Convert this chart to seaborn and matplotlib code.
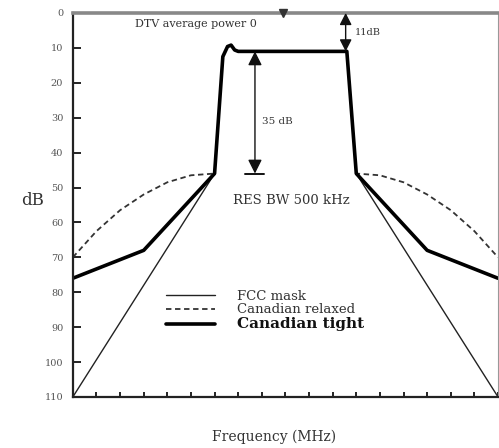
import numpy as np
import pandas as pd
import matplotlib
matplotlib.use("Agg")
import matplotlib.pyplot as plt
import seaborn as sns

# Frequency offset from the channel centre (MHz) and attenuation (dB)
passband_f = [-3.0, -2.65, -2.45, -2.3, -2.15, -2.0, 2.6, 3.0]
passband_db = [46, 12.5, 9.6, 9.2, 10.6, 11, 11, 46]

fcc_f = [-9.0] + passband_f + [9.0]
fcc_db = [110] + passband_db + [110]

relaxed_f = [-9.0, -8.0, -7.0, -6.0, -5.0, -4.0] + passband_f + [4.0, 5.0, 6.0, 7.0, 8.0, 9.0]
relaxed_db = [70, 62.5, 56.5, 52, 48.5, 46.5] + passband_db + [46.5, 48.5, 52, 56.5, 62.5, 70]

tight_f = [-9.0, -6.0] + passband_f + [6.0, 9.0]
tight_db = [76, 68] + passband_db + [68, 76]

series_names = ["FCC mask", "Canadian relaxed", "Canadian tight"]

df = pd.concat([
    pd.DataFrame({"freq": fcc_f, "db": fcc_db, "mask": series_names[0]}),
    pd.DataFrame({"freq": relaxed_f, "db": relaxed_db, "mask": series_names[1]}),
    pd.DataFrame({"freq": tight_f, "db": tight_db, "mask": series_names[2]}),
], ignore_index=True)

y_ticks = [0, 10, 20, 30, 40, 50, 60, 70, 80, 90, 100, 110]
x_ticks = np.arange(-9, 10, 1)

sns.set_style("ticks")
plt.rcParams["font.family"] = ["DejaVu Serif"]

fig = plt.figure(figsize=(4.99, 4.48), dpi=100)
ax = fig.add_axes([0.146, 0.114, 0.852, 0.857])

sns.lineplot(
    data=df, x="freq", y="db", hue="mask", style="mask", size="mask",
    hue_order=series_names, style_order=series_names, size_order=series_names,
    palette={"FCC mask": "#222222", "Canadian relaxed": "#333333", "Canadian tight": "#000000"},
    dashes={"FCC mask": "", "Canadian relaxed": (3, 2), "Canadian tight": ""},
    sizes={"FCC mask": 1.0, "Canadian relaxed": 1.3, "Canadian tight": 2.6},
    estimator=None, sort=False, ax=ax,
)

ax.set_xlim(-9, 9)
ax.set_ylim(110, 0)
ax.set_xticks(x_ticks)
ax.set_xticklabels([])
ax.set_yticks(y_ticks)
ax.set_yticklabels([str(v) for v in y_ticks], color="#555555", fontsize=7)
ax.tick_params(axis="y", direction="in", length=6, width=1.4, pad=7, colors="#222222", labelcolor="#555555")
ax.tick_params(axis="x", direction="in", length=3.5, width=1.4, colors="#222222")

for side in ["left", "bottom"]:
    ax.spines[side].set_linewidth(1.6)
    ax.spines[side].set_color("#222222")
ax.spines["top"].set_linewidth(2.6)
ax.spines["top"].set_color("#888888")
ax.spines["right"].set_linewidth(0.8)
ax.spines["right"].set_color("#999999")

ax.set_xlabel("")
ax.set_ylabel("")
fig.text(0.066, 0.553, "dB", fontsize=12, color="#333333", ha="center", va="center")
fig.text(0.55, 0.025, "Frequency (MHz)", fontsize=10, color="#333333", ha="center", va="center")

txt = "#333333"
# Average power reference at 0 dB
ax.plot([-0.1], [0], marker="v", markersize=6, color="#333333", clip_on=False, zorder=5)
ax.text(-1.2, 3.1, "DTV average power 0", fontsize=8, color=txt, ha="right", va="center")

# 11 dB dimension
ax.annotate("", xy=(2.55, 0), xytext=(2.55, 11),
            arrowprops=dict(arrowstyle="<|-|>,head_length=0.55,head_width=0.28",
                            mutation_scale=13, color="#111111", lw=1.0,
                            shrinkA=0, shrinkB=0))
ax.text(2.95, 5.7, "11dB", fontsize=7, color=txt, ha="left", va="center")

# 35 dB dimension
ax.annotate("", xy=(-1.29, 11), xytext=(-1.29, 46),
            arrowprops=dict(arrowstyle="<|-|>,head_length=0.6,head_width=0.3",
                            mutation_scale=14, color="#111111", lw=1.0,
                            shrinkA=0, shrinkB=0))
ax.plot([-1.7, -0.9], [46, 46], color="#111111", lw=1.4)
ax.text(-1.0, 31, "35 dB", fontsize=7.5, color=txt, ha="left", va="center")

ax.text(0.25, 53.6, "RES BW 500 kHz", fontsize=9.5, color=txt, ha="center", va="center")

handles, labels = ax.get_legend_handles_labels()
leg = ax.legend(handles, labels, loc="upper left", bbox_to_anchor=(0.219, 0.279),
                frameon=False, borderpad=0, borderaxespad=0, handlelength=3.7,
                handletextpad=1.7, labelspacing=0.05, fontsize=9.5)
for t in leg.get_texts():
    t.set_color("#333333")
leg.get_texts()[2].set_fontweight("bold")
leg.get_texts()[2].set_fontsize(11)
leg.get_texts()[2].set_color("#111111")

fig.savefig("out.png", dpi=100)
